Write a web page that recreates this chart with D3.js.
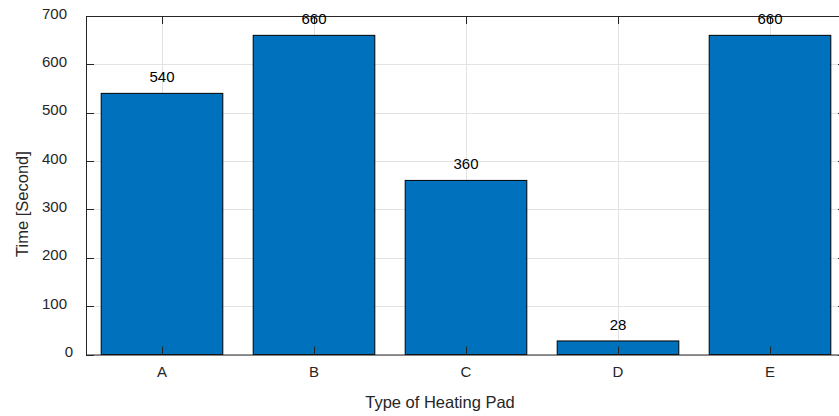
<!DOCTYPE html>
<html>
<head>
<meta charset="utf-8">
<script src="https://cdn.jsdelivr.net/npm/d3@7"></script>
<style>
	html, body { margin: 0; padding: 0; background: #fff; overflow: hidden; }
	svg { display: block; font-family: Arial, "Liberation Sans", Helvetica, sans-serif; }
</style>
</head>
<body>
<div id="chart"></div>
<script>
// chart data
const categories = ["A", "B", "C", "D", "E"];
const times = [540, 660, 360, 28, 660];
const yTicks = [0, 100, 200, 300, 400, 500, 600, 700];

(function() {
	const width = 839, height = 416;
	// axes box (right edge falls just outside the picture)
	const left = 86, right = 846, top = 16, bottom = 354.5;
	const tickLen = 8;
	const axisColor = "#262626";
	const gridColor = "#e3e3e3";

	const svg = d3.select("#chart").append("svg")
		.attr("width", width)
		.attr("height", height);

	const x = d3.scaleBand()
		.domain(categories)
		.range([left, right])
		.paddingInner(0.2)
		.paddingOuter(0.1);

	const y = d3.scaleLinear()
		.domain([0, 700])
		.range([bottom, top]);

	const cx = d => x(d) + x.bandwidth() / 2;

	// grid
	const grid = svg.append("g").attr("stroke", gridColor).attr("stroke-width", 1);
	grid.selectAll("line.h")
		.data(yTicks)
		.join("line")
		.attr("class", "h")
		.attr("x1", left).attr("x2", right)
		.attr("y1", d => Math.round(y(d)) + 0.5)
		.attr("y2", d => Math.round(y(d)) + 0.5);
	grid.selectAll("line.v")
		.data(categories)
		.join("line")
		.attr("class", "v")
		.attr("y1", top).attr("y2", bottom)
		.attr("x1", d => Math.round(cx(d)) + 0.5)
		.attr("x2", d => Math.round(cx(d)) + 0.5);

	// bars
	svg.append("g")
		.selectAll("rect")
		.data(times)
		.join("rect")
		.attr("x", (d, i) => x(categories[i]))
		.attr("width", x.bandwidth())
		.attr("y", d => y(d))
		.attr("height", d => y(0) - y(d))
		.attr("fill", "#0072BD")
		.attr("stroke", "#000")
		.attr("stroke-width", 1);

	// axes box
	const box = svg.append("g").attr("stroke", axisColor).attr("stroke-width", 1).attr("fill", "none");
	box.append("rect")
		.attr("x", left + 0.5).attr("y", top + 0.5)
		.attr("width", right - left).attr("height", bottom - top);

	// ticks, inward on all four sides
	box.selectAll("line.yl")
		.data(yTicks)
		.join("line")
		.attr("class", "yl")
		.attr("x1", left).attr("x2", left + tickLen)
		.attr("y1", d => Math.round(y(d)) + 0.5)
		.attr("y2", d => Math.round(y(d)) + 0.5);
	box.selectAll("line.yr")
		.data(yTicks)
		.join("line")
		.attr("class", "yr")
		.attr("x1", right - tickLen).attr("x2", right)
		.attr("y1", d => Math.round(y(d)) + 0.5)
		.attr("y2", d => Math.round(y(d)) + 0.5);
	box.selectAll("line.xb")
		.data(categories)
		.join("line")
		.attr("class", "xb")
		.attr("y1", bottom).attr("y2", bottom - tickLen)
		.attr("x1", d => Math.round(cx(d)) + 0.5)
		.attr("x2", d => Math.round(cx(d)) + 0.5);
	box.selectAll("line.xt")
		.data(categories)
		.join("line")
		.attr("class", "xt")
		.attr("y1", top).attr("y2", top + tickLen)
		.attr("x1", d => Math.round(cx(d)) + 0.5)
		.attr("x2", d => Math.round(cx(d)) + 0.5);

	// tick labels ("0" sits a little further right in the original)
	svg.append("g")
		.attr("fill", axisColor)
		.style("font-size", "15px")
		.attr("text-anchor", "end")
		.selectAll("text")
		.data(yTicks)
		.join("text")
		.attr("x", d => d === 0 ? left - 13 : left - 19)
		.attr("y", d => y(d) + 2.5)
		.text(d => d);

	svg.append("g")
		.attr("fill", axisColor)
		.style("font-size", "15px")
		.attr("text-anchor", "middle")
		.selectAll("text")
		.data(categories)
		.join("text")
		.attr("x", d => cx(d))
		.attr("y", 377)
		.text(d => d);

	// value labels above bars
	svg.append("g")
		.attr("fill", "#000")
		.style("font-size", "15px")
		.attr("text-anchor", "middle")
		.selectAll("text")
		.data(times)
		.join("text")
		.attr("x", (d, i) => cx(categories[i]))
		.attr("y", d => y(d) - 11)
		.text(d => d);

	// axis titles
	svg.append("text")
		.attr("x", 440)
		.attr("y", 408)
		.attr("text-anchor", "middle")
		.attr("fill", axisColor)
		.style("font-size", "16.5px")
		.text("Type of Heating Pad");

	svg.append("text")
		.attr("transform", "translate(28,204) rotate(-90)")
		.attr("text-anchor", "middle")
		.attr("fill", axisColor)
		.style("font-size", "16.5px")
		.text("Time [Second]");
}());
</script>
</body>
</html>
